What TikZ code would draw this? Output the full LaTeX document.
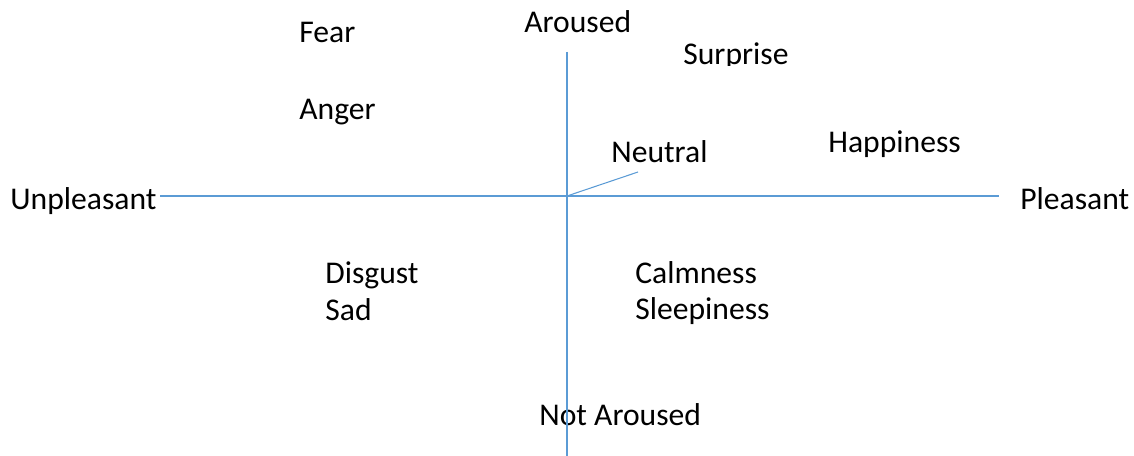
\documentclass[tikz,border=0pt]{standalone}
\usepackage{fontspec}
\setmainfont{Carlito}
\usepackage{tikz}
\usetikzlibrary{positioning}
\definecolor{axisblue}{HTML}{5B9BD5}

\begin{document}
\begin{tikzpicture}[x=0.02cm,y=-0.02cm,
    lbl/.style={anchor=base west, inner sep=0pt, font=\fontsize{18}{21}\selectfont},
    axis/.style={draw=axisblue, line width=0.6pt}]
  \useasboundingbox (0,0) rectangle (1134,456);
  % emotion labels
  \foreach \nm/\x/\y/\txt in {fear/299/43/Fear, anger/299/120/Anger,
      neutral/611/163/Neutral, happy/828/153/Happiness,
      disgust/325/284/Disgust, sad/325/320/Sad,
      calm/635/283/Calmness, sleepy/635/319/Sleepiness}{
    \node[lbl] (\nm) at (\x,\y) {\txt};
  }
  % axis labels
  \node[lbl] (aroused) at (524,33) {Aroused};
  \node[lbl] (notaroused) at (539,425) {Not Aroused};
  \node[lbl] (unpl) at (10,210) {Unpleasant};
  \node[lbl] (pleas) at (1020,210) {Pleasant};
  \begin{scope}
    \clip (600,0) rectangle (900,66);
    \node[lbl] (surprise) at (683,65) {Surprise};
  \end{scope}
  % axes
  \coordinate (o) at (567,196);
  \coordinate (top) at (567,52);
  \coordinate (bot) at (567,456);
  \coordinate (lft) at (160,196);
  \coordinate (rgt) at (999,196);
  \coordinate (nt) at (638,172);
  \draw[axis] (top) -- (bot);
  \draw[axis] (lft) -- (rgt);
  \draw[axis] (o) -- (nt);
\end{tikzpicture}
\end{document}
